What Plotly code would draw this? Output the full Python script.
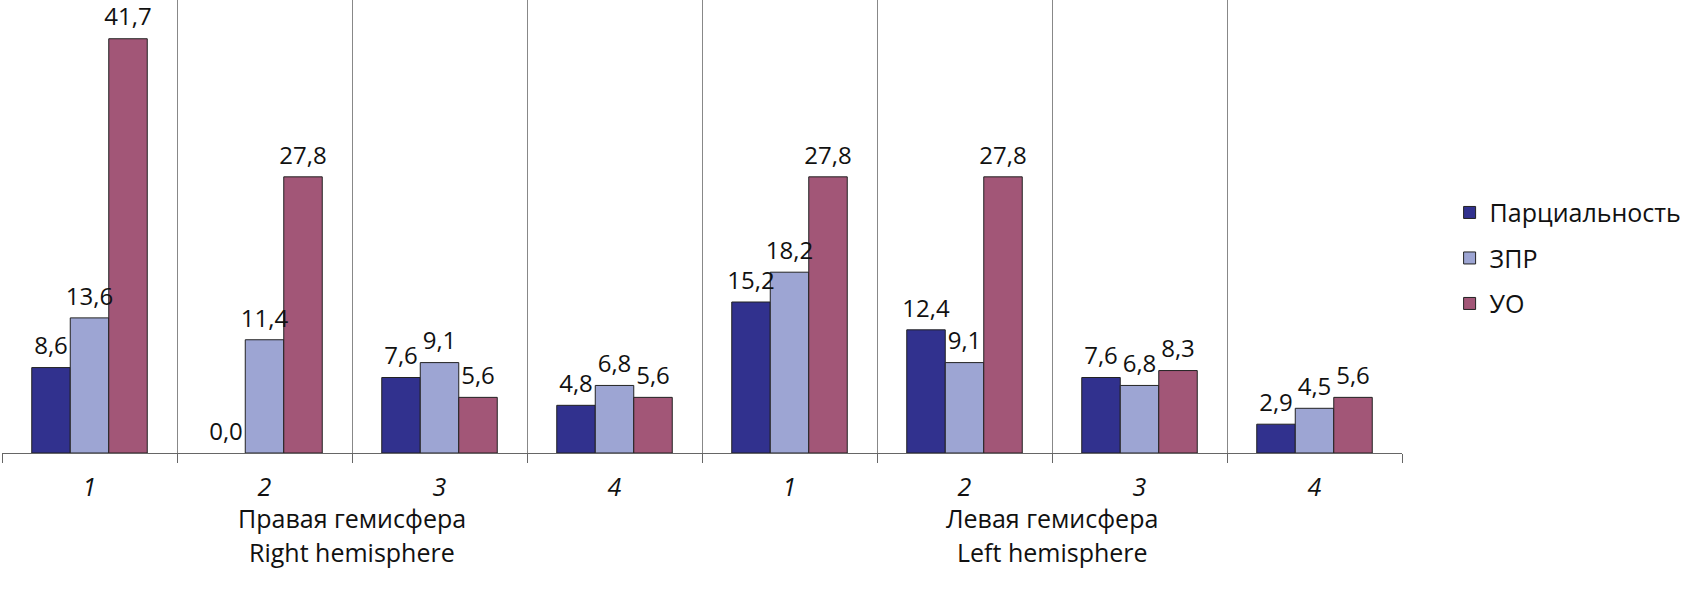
import plotly.graph_objects as go

categories = ["1", "2", "3", "4", "1", "2", "3", "4"]
group_ru = ["Правая гемисфера", "Левая гемисфера"]
group_en = ["Right hemisphere", "Left hemisphere"]
series_names = ["Парциальность", "ЗПР", "УО"]
partial = [8.6, 0.0, 7.6, 4.8, 15.2, 12.4, 7.6, 2.9]
zpr = [13.6, 11.4, 9.1, 6.8, 18.2, 9.1, 6.8, 4.5]
uo = [41.7, 27.8, 5.6, 5.6, 27.8, 27.8, 8.3, 5.6]
colors = ["#31318E", "#9DA5D3", "#A25677"]

FONT = "Open Sans"
x = list(range(len(categories)))
all_series = [partial, zpr, uo]

fig = go.Figure()
for i, (name, vals) in enumerate(zip(series_names, all_series)):
    fig.add_trace(go.Bar(
        x=x, y=vals, name=name, legendgroup=name,
        marker=dict(color=colors[i],
                    line=dict(color="#222", width=[0 if v == 0 else 1 for v in vals])),
        hoverinfo="skip",
    ))
# value labels drawn on top of all bars
for i, (name, vals) in enumerate(zip(series_names, all_series)):
    fig.add_trace(go.Scatter(
        x=x, y=vals, mode="markers+text", showlegend=False,
        marker=dict(size=10, color="rgba(0,0,0,0)"),
        text=[f"{v:.1f}".replace(".", ",") for v in vals],
        textposition="top center",
        textfont=dict(family=FONT, size=24, color="#111"),
        cliponaxis=False, hoverinfo="skip",
    ))

fig.update_layout(
    width=1698, height=591,
    separators=", ",
    barmode="group", bargap=0.34, bargroupgap=0,
    scattermode="group", scattergap=0.34,
    plot_bgcolor="white", paper_bgcolor="white",
    margin=dict(l=2, r=296, t=0, b=138),
    font=dict(family=FONT, size=25, color="#111"),
    showlegend=True,
    legend=dict(x=1.034, y=0.43, xanchor="left", yanchor="middle",
                font=dict(family=FONT, size=25), tracegroupgap=10,
                itemwidth=30),
    xaxis=dict(
        range=[-0.5, 7.5], tickmode="array", tickvals=x,
        ticktext=[f"<i>{c}</i>" for c in categories],
        ticks="", showgrid=False, showline=True, linecolor="#666", linewidth=1,
        ticklabelstandoff=12, tickfont=dict(family=FONT, size=25),
        minor=dict(tick0=-0.5, dtick=1, ticks="outside", ticklen=9,
                   tickcolor="#666", showgrid=True, gridcolor="#888", gridwidth=1),
        zeroline=False,
    ),
    yaxis=dict(range=[0, 45.6], showticklabels=False, showgrid=False,
               zeroline=False, showline=False, ticks=""),
)

for gi, cx in enumerate([1.5, 5.5]):
    fig.add_annotation(x=cx, y=0, xref="x", yref="paper", yanchor="middle",
                       text=group_ru[gi], showarrow=False, yshift=-65,
                       font=dict(family=FONT, size=25, color="#111"))
    fig.add_annotation(x=cx, y=0, xref="x", yref="paper", yanchor="middle",
                       text=group_en[gi], showarrow=False, yshift=-99,
                       font=dict(family=FONT, size=25, color="#111"))

fig.write_html("out.html", config={"displayModeBar": False},
               post_script="document.body.style.margin='0';")
